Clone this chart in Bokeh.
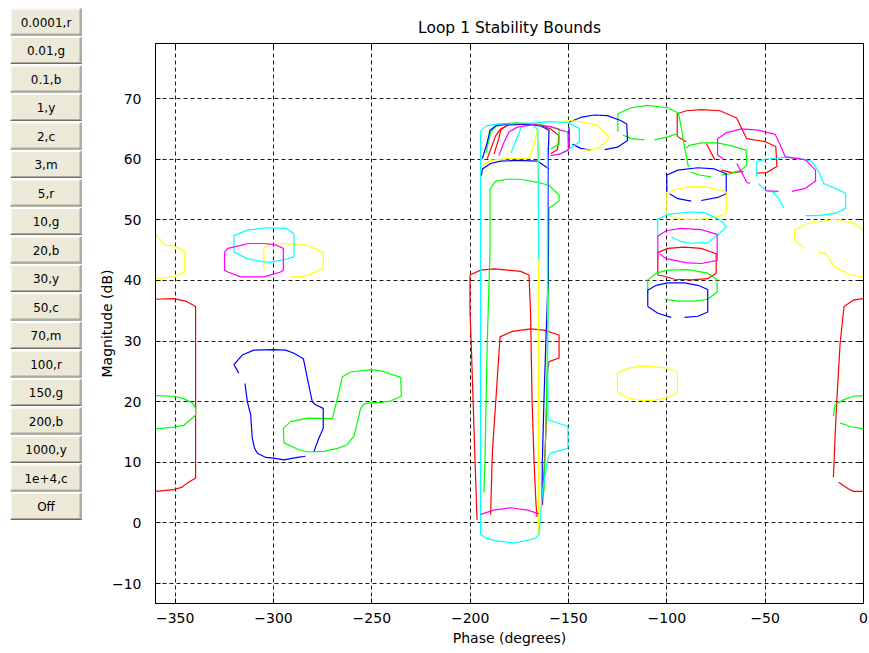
import numpy as np
from bokeh.plotting import figure
from bokeh.layouts import row
from bokeh.models import Range1d, LinearAxis, FixedTicker
from bokeh.core.properties import value
from bokeh.embed import file_html
from bokeh.resources import INLINE

FONT = "DejaVu Sans"

# ---------------- data ----------------
button_labels = ["0.0001,r", "0.01,g", "0.1,b", "1,y", "2,c", "3,m", "5,r", "10,g", "20,b",
                 "30,y", "50,c", "70,m", "100,r", "150,g", "200,b", "1000,y", "1e+4,c", "Off"]

phase_ticks = [-350, -300, -250, -200, -150, -100, -50, 0]
mag_ticks = [-10, 0, 10, 20, 30, 40, 50, 60, 70]

# red bounds
r_left_x = [-360, -350.7, -344.7, -339.6, -339.6, -343.8, -346.4, -350.7, -360]
r_left_y = [36.9, 37.0, 36.6, 35.7, 7.4, 6.6, 5.9, 5.5, 5.2]
r_right_x = [0, -4.8, -9.9, -11.9, -13.6, -14.4, -15.3]
r_right_y = [37.0, 36.8, 35.7, 29.6, 20.0, 14.6, 7.5]
r_right2_x = [-12.6, -7.6, -5.1, 0]
r_right2_y = [6.7, 5.6, 5.2, 5.2]
r_tall_x = [-196.5, -197.5, -198.5, -199.5, -200.1, -200.1, -194.7, -187.9, -174.3, -170.1, -169.3, -168.5, -167.5, -166.5, -166.0]
r_tall_y = [0.5, 10, 20, 30, 35, 40.9, 41.7, 41.9, 41.5, 40.9, 34.8, 20, 10, 3, 1]
r_inner_x = [-189.6, -188.7, -187.0, -184.8, -178.5, -169.3, -162.5, -154.8, -154.8, -159.9, -160.7, -161.5, -162.5, -163.2]
r_inner_y = [1.4, 11.8, 20.0, 30.7, 31.6, 32.0, 31.8, 31.0, 27.2, 26.6, 24.7, 15, 8, 3]
r_top_x = [-191.3, -187.0, -184.5, -181.1, -172.6, -164.1, -159.1, -154.8, -155.6, -159.1]
r_top_y = [60.1, 63.9, 65.0, 65.6, 65.8, 65.6, 65.0, 63.9, 61.6, 60.9]
r_top2_x = [-187.8, -185.2, -184.4, -180.9]
r_top2_y = [60.9, 63.7, 64.9, 65.6]
r_cyl_x = [-104.6, -104.6, -99.5, -91.0, -82.5, -74.9, -74.9, -79.2, -87.6, -96.1, -101.2, -104.6]
r_cyl_y = [40.9, 44.6, 45.3, 45.5, 45.3, 44.4, 41.2, 40.3, 40.1, 40.2, 40.7, 40.9]
r_hi_x = [-94.7, -94.7, -90.1, -82.4, -73.0, -64.5, -62.0, -59.4, -50.0, -44.6, -44.0, -49.2, -54.3]
r_hi_y = [63.7, 67.5, 68.0, 68.2, 68.0, 66.8, 65.1, 63.4, 62.9, 62.1, 58.8, 57.8, 57.7]
r_hi2_x = [-61.1, -67.1, -72.2]
r_hi2_y = [58.0, 57.8, 58.2]
r_hi3_x = [-94.4, -90.1]
r_hi3_y = [63.7, 62.9]
r_hi4_x = [-79.9, -75.6]
r_hi4_y = [62.6, 59.9]

# green bounds
g_left_x = [-360, -350.7, -345.6, -341.3, -339.6, -339.6, -341.3, -345.6, -350.7, -360]
g_left_y = [21.0, 20.9, 20.5, 19.8, 18.9, 17.8, 17.3, 16.1, 15.8, 15.5]
g_right_x = [-15.3, -14.4, -10.2, -5.1, 0]
g_right_y = [17.6, 19.5, 20.3, 20.9, 21.0]
g_right2_x = [-11.9, -6.8, 0]
g_right2_y = [16.5, 15.9, 15.5]
g_low_x = [-270.1, -267.9, -265.0, -260.8, -250.6, -245.5, -235.3, -235.0, -240.5, -245.5, -251.5, -254.0,
           -255.7, -257.1, -259.1, -262.5, -267.5, -274.4, -282.8, -287.9, -294.7, -295.0, -291.3, -282.8, -270.1]
g_low_y = [17.2, 20.0, 24.1, 24.9, 25.3, 25.1, 24.0, 20.9, 20.1, 19.9, 19.8, 19.6,
           18.9, 17.0, 14.3, 12.9, 12.3, 11.8, 11.7, 12.2, 13.2, 15.6, 16.7, 17.3, 17.2]
g_tall_x = [-193.0, -192.5, -191.3, -189.9, -189.9, -187.0, -181.1, -174.3, -165.8, -159.9, -154.8, -154.8,
            -159.9, -160.4, -161.2, -162.0, -162.5]
g_tall_y = [5, 10, 30, 45, 55.1, 56.4, 56.7, 56.7, 56.2, 55.7, 54.1, 53.1, 51.9, 34.8, 20, 10, 5]
g_top_x = [-192.0, -189.5, -186.0, -176.0, -166.0, -159.1, -154.8, -154.8, -159.1]
g_top_y = [61.0, 64.5, 65.8, 66.0, 65.8, 65.3, 65.0, 62.5, 61.7]
g_hi_x = [-124.9, -124.9, -118.1, -109.7, -99.5, -94.1, -92.7, -91.0, -89.7, -89.0]
g_hi_y = [64.5, 67.5, 68.5, 68.9, 68.5, 67.6, 65.3, 62.0, 59.8, 58.7]
g_hi2_x = [-122.4, -118.1, -111.4]
g_hi2_y = [64.0, 63.4, 63.2]
g_hi3_x = [-106.3, -99.5, -94.1]
g_hi3_y = [63.2, 63.7, 64.3]
g_mid_x = [-90.2, -88.5, -82.5, -74.1, -68.1, -59.7, -59.3, -62.2, -68.1, -72.4]
g_mid_y = [61.8, 62.3, 62.7, 62.7, 62.3, 61.5, 59.0, 58.2, 57.6, 57.4]
g_mid2_x = [-88.0, -83.4, -77.5]
g_mid2_y = [57.9, 57.4, 57.1]
g_cyl_x = [-109.7, -109.7, -105.4, -99.5, -89.3, -79.2, -74.4, -74.4, -79.2, -85.9]
g_cyl_y = [37.9, 40.1, 41.2, 41.7, 41.8, 41.2, 40.1, 38.1, 36.9, 36.6]
g_cyl2_x = [-101.2, -94.4, -85.9]
g_cyl2_y = [36.9, 36.6, 36.6]

# blue bounds
b_low_x = [-317.6, -319.0, -320.1, -315.9, -310.0, -299.8, -293.8, -289.6, -284.8, -282.8, -280.3, -278.6, -274.7, -274.7, -276.9, -279.4]
b_low_y = [24.7, 25.5, 26.1, 27.7, 28.5, 28.6, 28.5, 28.0, 27.1, 23.9, 20.0, 19.5, 18.9, 15.6, 14.0, 11.8]
b_low2_x = [-314.5, -313.3, -311.6, -310.8, -309.6, -308.2, -303.9, -299.8, -294.7, -287.9, -283.7]
b_low2_y = [23.0, 20.0, 17.8, 14.0, 12.3, 11.5, 10.8, 10.7, 10.4, 10.8, 11.0]
b_tall_x = [-193.8, -191.3, -189.9, -187.0, -181.1, -172.6, -164.1, -159.9, -160.4, -160.4, -161.5, -162.5, -163.3, -163.5]
b_tall_y = [60.1, 62.8, 64.8, 65.5, 65.8, 65.8, 65.5, 64.8, 60, 40, 30, 20, 10, 3]
b_tall2_x = [-194.3, -193.8, -189.6, -184.5, -176.0, -165.8, -159.9]
b_tall2_y = [57.3, 58.4, 59.3, 59.7, 59.8, 59.7, 58.4]
b_hi_x = [-149.7, -143.8, -137.0, -130.2, -123.5, -120.4, -120.0, -125.1, -131.6]
b_hi_y = [66.1, 66.9, 67.3, 67.2, 66.4, 65.8, 63.1, 62.0, 61.6]
b_hi2_x = [-149.7, -149.7]
b_hi2_y = [65.3, 61.8]
b_hi3_x = [-148.0, -143.8, -138.7]
b_hi3_y = [62.5, 61.8, 61.5]
b_cyl_x = [-100, -100, -94.4, -84.2, -75.8, -69.8, -69.8, -74.1, -82.5]
b_cyl_y = [54.6, 57.4, 58.2, 58.6, 58.4, 57.6, 54.3, 53.7, 53.2]
b_cyl2_x = [-98.6, -94.4, -87.6]
b_cyl2_y = [54.3, 53.5, 53.1]
b_bot_x = [-109.7, -109.7, -105.4, -99.5, -91.0, -84.2, -79.2, -79.2, -84.2, -91.0]
b_bot_y = [35.7, 38.4, 39.2, 39.6, 39.6, 39.2, 38.5, 34.8, 34.1, 33.9]
b_bot2_x = [-97.8, -104.6, -109.7]
b_bot2_y = [33.9, 34.6, 35.7]

# yellow bounds
y_left_x = [-360, -354.9, -350.7, -345.1, -345.1, -350.7, -360]
y_left_y = [47.6, 45.8, 45.7, 44.8, 41.4, 40.6, 40.3]
y_mid_x = [-304.9, -304.9, -302.3, -294.7, -282.8, -274.7, -274.7, -281.1, -286.2, -291.3]
y_mid_y = [41.7, 45.3, 45.9, 46.1, 45.8, 44.6, 42.0, 41.0, 40.6, 40.6]
y_right_x = [0, -4.6, -14.7, -28.3, -35.1, -35.1, -30.0]
y_right_y = [48.3, 49.4, 50.1, 49.4, 48.3, 46.6, 45.3]
y_right2_x = [-23.2, -19.0, -14.7, -6.3, 0]
y_right2_y = [44.7, 44.4, 42.2, 40.9, 40.6]
y_small_x = [-125.1, -125.1, -120.0, -111.6, -101.4, -94.6, -94.6, -99.7, -106.5, -113.3, -120.0, -125.1, -125.1]
y_small_y = [23.3, 24.7, 25.5, 25.9, 25.6, 24.9, 21.4, 20.7, 20.2, 20.2, 20.6, 21.7, 23.3]
y_cyl_x = [-100, -100, -96.9, -87.6, -79.2, -69.8, -69.8, -74.1, -82.5, -91.0, -97.8, -100]
y_cyl_y = [51.0, 54.3, 54.9, 55.5, 55.4, 54.6, 51.0, 50.5, 50.1, 50.1, 50.5, 51.0]
y_top_x = [-155.6, -150.6, -143.8, -135.3, -129.4, -133.6, -138.7, -143.8]
y_top_y = [65.8, 66.4, 66.2, 65.6, 63.6, 62.0, 61.5, 61.6]
y_cl_x = [-193.8, -189.6, -181.1, -170.1, -168.4, -165.8]
y_cl_y = [59.0, 59.8, 60.1, 60.1, 61.5, 64.8]
y_vert_x = [-165.3, -165.3]
y_vert_y = [63.0, -2.0]

# cyan bounds
c_mid_x = [-320.1, -320.1, -313.3, -303.9, -293.8, -289.6, -289.6, -293.8, -301.4, -305.7, -313.3, -320.1]
c_mid_y = [44.7, 47.4, 48.3, 48.7, 48.6, 47.7, 43.9, 43.5, 43.0, 43.1, 43.6, 44.7]
c_big_x = [-155.6, -149.7, -144.3, -144.7, -150.6, -160, -166, -176, -186, -192, -194.7, -194.7, -192.1, -186.2,
           -177.7, -170.9, -166.7, -165.0, -164.1, -163.3, -161.6, -160.4, -159.1, -150.3, -150.3, -159.1, -160.4,
           -160.7, -160.7]
c_big_y = [60.7, 61.7, 62.9, 65.1, 66.1, 66.2, 66.0, 65.9, 65.8, 65.5, 64.6, -1.9, -2.5, -3.0,
           -3.3, -2.9, -2.5, -1.9, 1.4, 5.2, 8.5, 10.7, 11.5, 12.3, 15.9, 16.9, 17.0,
           36.5, 62]
c_inner_x = [-179.2, -176.7, -174.1, -171.6, -168.2, -165.6, -165.1]
c_inner_y = [61.0, 63.1, 65.2, 65.6, 65.6, 64.9, 43.3]
c_cyl_x = [-104.6, -104.6, -99.5, -89.3, -80.8, -72.4, -69.8, -74.1, -79.2, -85.9]
c_cyl_y = [47.2, 50.1, 50.9, 51.3, 51.2, 49.9, 48.8, 47.5, 46.2, 46.2]
c_cyl2_x = [-97.8, -92.7, -85.9]
c_cyl2_y = [47.2, 46.4, 46.1]
c_right_x = [-54.3, -54.3, -50.0, -43.2, -39.8, -33.0, -26.1, -22.7, -20.2, -14.2, -9.1, -9.1, -14.2, -22.7, -29.5]
c_right_y = [57.1, 59.6, 60.0, 60.2, 60.4, 60.2, 59.6, 57.9, 56.0, 55.2, 54.4, 51.9, 51.1, 50.7, 50.7]
c_right2_x = [-53.4, -50.0, -44.9]
c_right2_y = [56.0, 54.9, 54.5]
c_right3_x = [-45.7, -43.2, -40.6]
c_right3_y = [54.4, 53.6, 51.9]

# magenta bounds
m_mid_x = [-324.9, -324.9, -323.2, -316.7, -304.9, -296.4, -295.0, -295.0, -299.0, -304.9, -312.5, -316.7, -323.2, -324.9]
m_mid_y = [44.7, 41.7, 41.4, 40.6, 40.6, 41.4, 41.7, 45.3, 45.9, 46.1, 46.1, 45.8, 45.3, 44.7]
m_cl_x = [-185.4, -182.8, -180.3, -176.0, -167.5, -159.1, -154.0, -150.3, -150.1, -154.0, -159.1]
m_cl_y = [60.6, 62.8, 64.5, 65.3, 65.7, 65.4, 64.8, 64.5, 61.5, 60.9, 60.6]
m_bot_x = [-194.7, -187.9, -179.4, -170.9, -165.0]
m_bot_y = [1.4, 2.1, 2.5, 2.1, 1.5]
m_cyl_x = [-104.6, -104.6, -100.3, -92.7, -82.5, -74.4, -74.4, -77.5, -82.5, -89.3]
m_cyl_y = [43.3, 47.3, 48.2, 48.6, 48.4, 47.6, 43.3, 43.1, 42.8, 42.9]
m_cyl2_x = [-103.7, -100.3, -92.7, -89.3]
m_cyl2_y = [44.4, 43.6, 43.1, 42.9]
m_hi_x = [-74.2, -74.2, -69.6, -62.0, -53.4, -44.9, -42.3, -39.8, -29.5, -24.4, -24.4, -29.5, -36.4]
m_hi_y = [60.7, 63.4, 64.4, 65.0, 64.8, 64.1, 62.3, 60.4, 59.9, 58.2, 56.4, 55.2, 54.7]
m_hi2_x = [-43.2, -50.0]
m_hi2_y = [54.7, 54.8]
m_hi3_x = [-74.2, -71.3]
m_hi3_y = [60.7, 60.1]
m_hi4_x = [-64.5, -62.0, -59.4, -57.7]
m_hi4_y = [59.3, 57.9, 56.2, 56.0]

COLORS = {"r": "#FF0000", "g": "#00FF00", "b": "#0000FF", "y": "#FFFF00", "c": "#00FFFF", "m": "#FF00FF"}

groups = {
    "r": [(r_left_x, r_left_y), (r_right_x, r_right_y), (r_right2_x, r_right2_y), (r_tall_x, r_tall_y),
          (r_inner_x, r_inner_y), (r_top_x, r_top_y), (r_top2_x, r_top2_y), (r_cyl_x, r_cyl_y),
          (r_hi_x, r_hi_y), (r_hi2_x, r_hi2_y), (r_hi3_x, r_hi3_y), (r_hi4_x, r_hi4_y)],
    "g": [(g_left_x, g_left_y), (g_right_x, g_right_y), (g_right2_x, g_right2_y), (g_low_x, g_low_y),
          (g_tall_x, g_tall_y), (g_top_x, g_top_y), (g_hi_x, g_hi_y), (g_hi2_x, g_hi2_y), (g_hi3_x, g_hi3_y),
          (g_mid_x, g_mid_y), (g_mid2_x, g_mid2_y), (g_cyl_x, g_cyl_y), (g_cyl2_x, g_cyl2_y)],
    "b": [(b_low_x, b_low_y), (b_low2_x, b_low2_y), (b_tall_x, b_tall_y), (b_tall2_x, b_tall2_y),
          (b_hi_x, b_hi_y), (b_hi2_x, b_hi2_y), (b_hi3_x, b_hi3_y), (b_cyl_x, b_cyl_y), (b_cyl2_x, b_cyl2_y),
          (b_bot_x, b_bot_y), (b_bot2_x, b_bot2_y)],
    "y": [(y_left_x, y_left_y), (y_mid_x, y_mid_y), (y_right_x, y_right_y), (y_right2_x, y_right2_y),
          (y_small_x, y_small_y), (y_cyl_x, y_cyl_y), (y_top_x, y_top_y), (y_cl_x, y_cl_y), (y_vert_x, y_vert_y)],
    "c": [(c_mid_x, c_mid_y), (c_big_x, c_big_y), (c_inner_x, c_inner_y), (c_cyl_x, c_cyl_y),
          (c_cyl2_x, c_cyl2_y), (c_right_x, c_right_y), (c_right2_x, c_right2_y), (c_right3_x, c_right3_y)],
    "m": [(m_mid_x, m_mid_y), (m_cl_x, m_cl_y), (m_bot_x, m_bot_y), (m_cyl_x, m_cyl_y), (m_cyl2_x, m_cyl2_y),
          (m_hi_x, m_hi_y), (m_hi2_x, m_hi2_y), (m_hi3_x, m_hi3_y), (m_hi4_x, m_hi4_y)],
}

# frame placement of main plot (pixels in the 869x653 window)
FRAME_TOP, FRAME_BOTTOM = 43, 603

# ---------------- button panel ----------------
BW = 90
# frame of this panel is aligned with the main plot frame by the row layout,
# so the y range is expressed in window pixels of that frame
bf = figure(width=BW, height=653, x_range=Range1d(0, BW), y_range=Range1d(FRAME_BOTTOM, FRAME_TOP),
            output_backend="svg", toolbar_location=None, min_border=0)
bf.min_border_left = bf.min_border_right = bf.min_border_top = bf.min_border_bottom = 0
bf.axis.visible = False
bf.grid.visible = False
bf.outline_line_color = None
bf.background_fill_color = "white"
bf.border_fill_color = "white"

idx = np.arange(len(button_labels))
btop = 8 + 28.5 * idx
bbot = btop + 27
bl, br = 10, 81
bf.quad(left=bl, right=br, top=btop, bottom=bbot, fill_color="#ECE9D8", line_color=None, level="overlay")
# 3D edges
bf.segment(x0=bl, y0=btop + 0.5, x1=br, y1=btop + 0.5, line_color="#FFFFFF", line_width=1, level="overlay")
bf.segment(x0=bl + 0.5, y0=btop, x1=bl + 0.5, y1=bbot, line_color="#FFFFFF", line_width=1, level="overlay")
bf.segment(x0=bl, y0=bbot - 0.5, x1=br, y1=bbot - 0.5, line_color="#716F64", line_width=1, level="overlay")
bf.segment(x0=br - 0.5, y0=btop, x1=br - 0.5, y1=bbot, line_color="#716F64", line_width=1, level="overlay")
bf.segment(x0=bl + 1, y0=bbot - 1.5, x1=br - 1, y1=bbot - 1.5, line_color="#ACA899", line_width=1, level="overlay")
bf.segment(x0=br - 1.5, y0=btop + 1, x1=br - 1.5, y1=bbot - 1, line_color="#ACA899", line_width=1, level="overlay")
bf.text(x=(bl + br) / 2, y=(btop + bbot) / 2 + 0.5, text=button_labels, text_align="center",
        text_baseline="middle", text_font=value(FONT), text_font_size="12px", text_color="black",
        level="overlay")

# ---------------- main plot ----------------
p = figure(width=869 - BW, height=653, x_range=Range1d(-360, 0), y_range=Range1d(-13.3, 79.1),
           output_backend="svg", toolbar_location=None, title="Loop 1 Stability Bounds",
           min_border_left=155 - BW, min_border_right=6, min_border_top=FRAME_TOP,
           min_border_bottom=653 - FRAME_BOTTOM)
p.background_fill_color = "white"
p.border_fill_color = "white"
p.outline_line_color = "black"
p.outline_line_width = 1

p.title.align = "center"
p.title.text_font = FONT
p.title.text_font_size = "15.5px"
p.title.text_font_style = "normal"
p.title.text_color = "black"
p.title.standoff = 13

for ax, ticks in ((p.xaxis[0], phase_ticks), (p.yaxis[0], mag_ticks)):
    ax.ticker = FixedTicker(ticks=ticks)
    ax.major_tick_in = 5
    ax.major_tick_out = 0
    ax.minor_tick_line_color = None
    ax.axis_line_color = "black"
    ax.major_tick_line_color = "black"
    ax.major_label_text_font = FONT
    ax.major_label_text_font_size = "14px"
    ax.major_label_text_color = "black"
    ax.axis_label_text_font = FONT
    ax.axis_label_text_font_size = "14px"
    ax.axis_label_text_font_style = "normal"
    ax.axis_label_text_color = "black"

p.xaxis[0].axis_label = "Phase (degrees)"
p.xaxis[0].major_label_standoff = 9
p.xaxis[0].axis_label_standoff = 4
p.yaxis[0].axis_label = "Magnitude (dB)"
p.yaxis[0].major_label_standoff = 14
p.yaxis[0].axis_label_standoff = -6

ra = LinearAxis(ticker=FixedTicker(ticks=mag_ticks), major_label_text_font_size="1px",
                major_label_text_color=None, major_tick_in=5, major_tick_out=0, major_label_standoff=0,
                minor_tick_line_color=None, axis_line_color="black")
p.add_layout(ra, "right")
ta = LinearAxis(ticker=FixedTicker(ticks=phase_ticks), major_label_text_font_size="1px",
                major_label_text_color=None, major_tick_in=5, major_tick_out=0, major_label_standoff=0,
                minor_tick_line_color=None, axis_line_color="black")
p.add_layout(ta, "above")

p.xgrid.ticker = FixedTicker(ticks=phase_ticks)
p.ygrid.ticker = FixedTicker(ticks=mag_ticks)
for g in (p.xgrid[0], p.ygrid[0]):
    g.grid_line_color = "black"
    g.grid_line_dash = "4 3"
    g.grid_line_width = 1
    g.grid_line_alpha = 0.9

for key in ["r", "g", "b", "y", "c", "m"]:
    segs = groups[key]
    p.multi_line(xs=[list(s[0]) for s in segs], ys=[list(s[1]) for s in segs],
                 line_color=COLORS[key], line_width=1.2)

layout = row(bf, p)
open("out.html", "w").write(file_html(layout, INLINE))
